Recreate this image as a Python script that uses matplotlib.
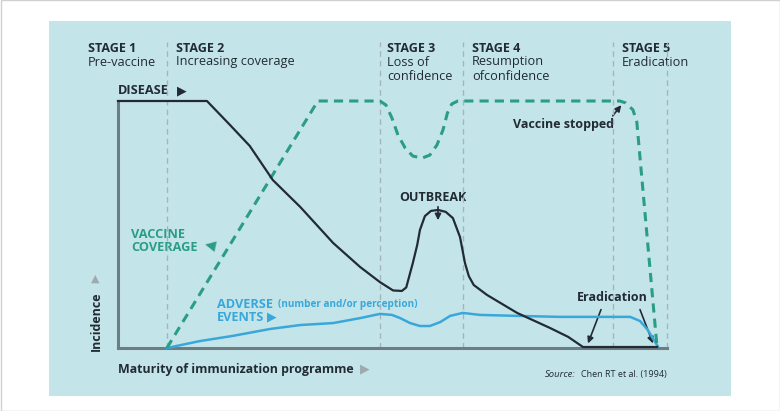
import matplotlib.pyplot as plt
from matplotlib.patches import Rectangle

# x: maturity of immunization programme (0-100), y: incidence (0-100)
disease_x = [0, 16.2, 20.4, 24.0, 28.2, 33.2, 39.2, 44.1, 47.7, 50.1, 51.7, 52.5, 53.7, 54.5, 55.0,
             55.9, 57.0, 58.3, 59.7, 61.0, 62.3, 63.2, 63.9, 64.8, 67.2, 72.7, 78.7, 82.0, 84.7, 98.2]
disease_y = [100, 100, 90.3, 81.8, 68.0, 57.1, 42.5, 32.8, 26.7, 23.3, 23.1, 24.5, 34.4, 41.7, 47.8,
             53.4, 55.5, 55.9, 55.1, 52.6, 44.9, 34.4, 29.1, 25.5, 21.5, 14.2, 8.1, 4.5, 0.4, 0.4]

coverage_x = [8.9, 36.4, 47.7, 48.8, 49.9, 51.0, 52.3, 53.7, 55.4, 56.8, 58.1, 59.2, 60.0, 60.8,
              61.9, 91.4, 92.5, 93.8, 94.5, 98.2]
coverage_y = [0, 100, 100, 98.4, 93.1, 86.2, 81.0, 77.7, 76.9, 78.1, 82.2, 88.3, 95.1, 98.8,
              100, 100, 99.2, 96.4, 91.5, 0]

adverse_x = [8.9, 14.9, 20.9, 27.7, 33.2, 39.2, 44.1, 47.7, 49.9, 51.4, 53.2, 55.0, 56.8, 58.7,
             60.5, 62.8, 65.9, 72.7, 80.5, 87.8, 93.3, 95.1, 96.5, 97.4, 98.4]
adverse_y = [0, 2.8, 4.9, 7.7, 9.3, 10.1, 12.1, 13.8, 13.4, 12.1, 10.1, 8.9, 8.9, 10.5,
             13.0, 14.2, 13.4, 13.0, 12.6, 12.6, 12.6, 10.9, 7.3, 4.0, 0.4]

stage_edges = [8.9, 47.7, 62.8, 90.2, 100]
stage_titles = ['STAGE 1', 'STAGE 2', 'STAGE 3', 'STAGE 4', 'STAGE 5']
stage_notes = [['Pre-vaccine'], ['Increasing coverage'], ['Loss of', 'confidence'],
               ['Resumption', 'ofconfidence'], ['Eradication']]
stage_text_x = [88, 176, 387, 472, 622]

INK = '#222b33'
TEAL = '#2b9d84'
BLUE = '#3aa7da'
PANEL = '#c3e5ea'
AXIS = '#6e7d83'
DIV = '#a6b3b8'
ARROW_GRAY = '#9eaaae'

plt.rcParams['font.family'] = ['Open Sans', 'DejaVu Sans']

fig = plt.figure(figsize=(7.8, 4.11), dpi=100)

# overlay in pixel coordinates for panel and labels
ov = fig.add_axes([0, 0, 1, 1])
ov.set_xlim(0, 780)
ov.set_ylim(411, 0)
ov.axis('off')
ov.add_patch(Rectangle((0.5, 0.5), 779, 410, fill=False, ec='#d0d0d0', lw=1))
ov.add_patch(Rectangle((49, 21), 682, 375, color=PANEL, lw=0))

ax = fig.add_axes([118 / 780, 1 - 348 / 411, 549 / 780, 247 / 411])
ax.patch.set_alpha(0)
ax.set_xlim(0, 100)
ax.set_ylim(0, 100)
ax.set_xticks([])
ax.set_yticks([])
for s in ['top', 'right']:
    ax.spines[s].set_visible(False)
for s in ['left', 'bottom']:
    ax.spines[s].set_color(AXIS)
    ax.spines[s].set_linewidth(2.2)

ax.vlines(stage_edges, 0, 124, colors=DIV, linestyles=(0, (4, 3)), lw=1, clip_on=False, zorder=1)

ax.plot(adverse_x, adverse_y, color=BLUE, lw=1.8, zorder=3, clip_on=False, solid_capstyle='round')
ax.plot(coverage_x, coverage_y, color=TEAL, lw=2.2, ls=(0, (3, 2)), zorder=3, clip_on=False)
ax.plot(disease_x, disease_y, color=INK, lw=1.6, zorder=4, clip_on=False, solid_joinstyle='round')

# stage headers
for x, t, notes in zip(stage_text_x, stage_titles, stage_notes):
    ov.text(x, 49, t, fontsize=9, fontweight='bold', color=INK, va='center', ha='left')
    for i, n in enumerate(notes):
        ov.text(x, 62 + 14 * i, n, fontsize=9.2, color=INK, va='center', ha='left')

caps = dict(fontsize=9.2, fontweight='bold', va='center', ha='left')
ov.text(118, 91, 'DISEASE', color=INK, **caps)
ov.text(177, 91, '▶', color=INK, fontsize=9, va='center', ha='left', family='DejaVu Sans')

ov.text(433, 197, 'OUTBREAK', color=INK, fontsize=9, fontweight='bold', va='center', ha='center')
ov.annotate('', xy=(438, 223), xytext=(438, 204),
            arrowprops=dict(arrowstyle='-|>', color=INK, lw=1.2, mutation_scale=9))

ov.text(131, 234, 'VACCINE', color=TEAL, **caps)
ov.text(131, 247, 'COVERAGE', color=TEAL, **caps)
ov.text(210, 245, '◀', color=TEAL, fontsize=10, va='center', ha='center', rotation=-12,
        rotation_mode='anchor', family='DejaVu Sans')

ov.text(217, 304, 'ADVERSE', color=BLUE, **caps)
ov.text(278, 304, '(number and/or perception)', color=BLUE, fontsize=7.2, fontweight='bold',
        va='center', ha='left')
ov.text(217, 317, 'EVENTS', color=BLUE, **caps)
ov.text(267, 317, '▶', color=BLUE, fontsize=9, va='center', ha='left', family='DejaVu Sans')

ov.text(513, 124, 'Vaccine stopped', color=INK, fontsize=9, fontweight='bold', va='center', ha='left')
ov.annotate('', xy=(623, 103), xytext=(611, 118),
            arrowprops=dict(arrowstyle='-|>', color=INK, lw=1.2, mutation_scale=9))

ov.text(612, 297, 'Eradication', color=INK, fontsize=9, fontweight='bold', va='center', ha='center')
ov.annotate('', xy=(587, 346), xytext=(602, 307),
            arrowprops=dict(arrowstyle='-|>', color=INK, lw=1.2, mutation_scale=9))
ov.annotate('', xy=(654, 346), xytext=(639, 307),
            arrowprops=dict(arrowstyle='-|>', color=INK, lw=1.2, mutation_scale=9))

ov.text(96, 321, 'Incidence', color=INK, fontsize=9, fontweight='bold', va='center', ha='center',
        rotation=90)
ov.text(95, 279, '▲', color=ARROW_GRAY, fontsize=8, va='center', ha='center', family='DejaVu Sans')

ov.text(118, 369, 'Maturity of immunization programme', color=INK, fontsize=8.9, fontweight='bold',
        va='center', ha='left')
ov.text(360, 369, '▶', color=ARROW_GRAY, fontsize=9, va='center', ha='left', family='DejaVu Sans')

ov.text(545, 374, 'Source:', color=INK, fontsize=6.8, style='italic', va='center', ha='left')
ov.text(667, 374, 'Chen RT et al. (1994)', color=INK, fontsize=6.5, va='center', ha='right')

fig.savefig('out.png', dpi=100)
